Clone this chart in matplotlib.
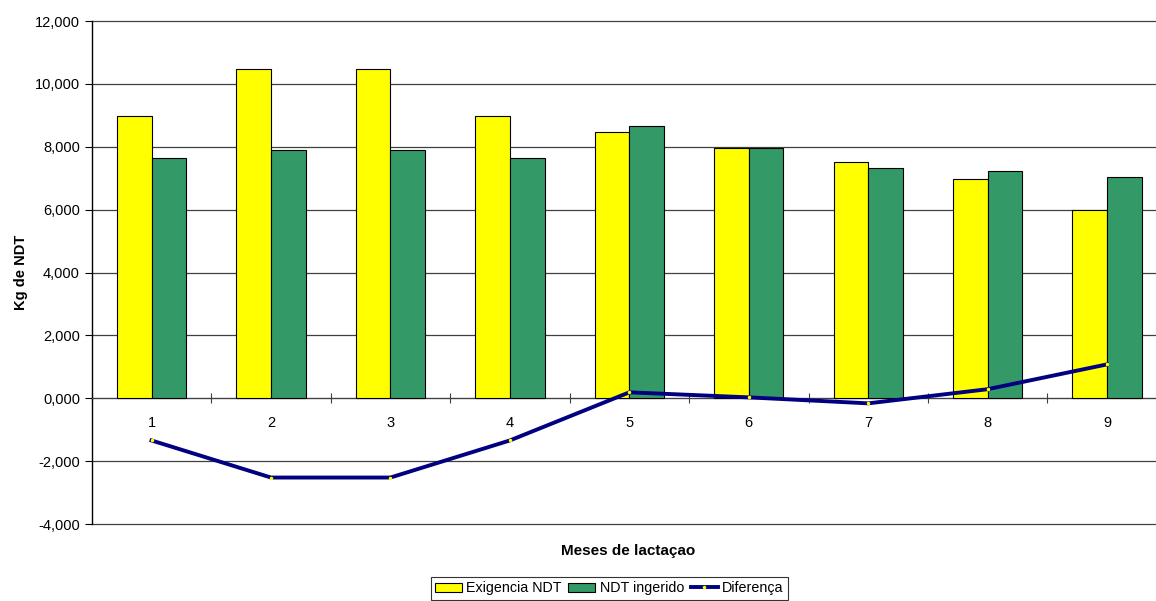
import numpy as np
import matplotlib.pyplot as plt
from matplotlib.ticker import FuncFormatter

plt.rcParams['font.family'] = ['Liberation Sans', 'DejaVu Sans']

# Meses de lactação
meses = ['1', '2', '3', '4', '5', '6', '7', '8', '9']
exigencia = [8.98, 10.48, 10.48, 8.98, 8.47, 7.97, 7.51, 6.97, 5.99]
ingerido = [7.64, 7.90, 7.90, 7.64, 8.66, 7.97, 7.32, 7.23, 7.04]
diferenca = [-1.34, -2.52, -2.52, -1.34, 0.19, 0.03, -0.16, 0.29, 1.08]
y_ticks = [-4, -2, 0, 2, 4, 6, 8, 10, 12]

x = np.arange(len(meses))
w = 0.29

fig = plt.figure(figsize=(11.56, 6.01), dpi=100)
# a area do grafico passa um pouco da borda direita, como no original
ax = fig.add_axes([0.0794, 0.128, 0.930, 0.837])

b1 = ax.bar(x - w / 2, exigencia, w, color='#FFFF00', edgecolor='black', linewidth=0.8,
            label='Exigencia NDT', zorder=3)
b2 = ax.bar(x + w / 2, ingerido, w, color='#339966', edgecolor='black', linewidth=0.8,
            label='NDT ingerido', zorder=3)
l1, = ax.plot(x, diferenca, color='#000080', linewidth=2.8, marker='.', markersize=3,
              markerfacecolor='#FFFF00', markeredgecolor='#FFFF00', label='Diferença', zorder=4)

ax.set_xlim(-0.5, len(meses) - 0.5)
ax.set_ylim(-4, 12)
ax.set_yticks(y_ticks)
ax.yaxis.set_major_formatter(FuncFormatter(lambda v, p: f'{v:.3f}'.replace('.', ',')))
for yv in y_ticks:
    ax.axhline(yv, color='#404040', linewidth=0.9, zorder=0, clip_on=False)

ax.spines['top'].set_visible(False)
ax.spines['right'].set_visible(False)
ax.spines['bottom'].set_position(('data', 0))
ax.spines['bottom'].set_color('#404040')
ax.spines['left'].set_linewidth(1.0)

# ticks entre as categorias, rotulos abaixo do eixo
ax.set_xticks(np.arange(len(meses) + 1) - 0.5, minor=False)
ax.set_xticklabels([])
ax.set_xticks(x, minor=True)
ax.set_xticklabels(meses, minor=True)
ax.tick_params(axis='x', which='major', direction='inout', length=7, width=0.8, color='#404040')
ax.tick_params(axis='x', which='minor', length=0, pad=13, labelsize=10.5)
ax.tick_params(axis='y', direction='out', length=5, labelsize=10.5)

ax.set_ylabel('Kg de NDT', fontweight='bold', fontsize=10.5, labelpad=5)
fig.text(0.5435, 0.083, 'Meses de lactaçao', fontweight='bold', fontsize=11,
         ha='center', va='center')

leg = fig.legend([b1, b2, l1], ['Exigencia NDT', 'NDT ingerido', 'Diferença'],
                 loc='upper center', bbox_to_anchor=(0.527, 0.040), ncol=3,
                 frameon=True, fancybox=False, edgecolor='black', fontsize=10.3,
                 handlelength=1.9, handleheight=0.6, handletextpad=0.3,
                 columnspacing=0.45, borderpad=0.3, borderaxespad=0)
leg.get_frame().set_linewidth(0.8)

fig.savefig('out.png', dpi=100)
